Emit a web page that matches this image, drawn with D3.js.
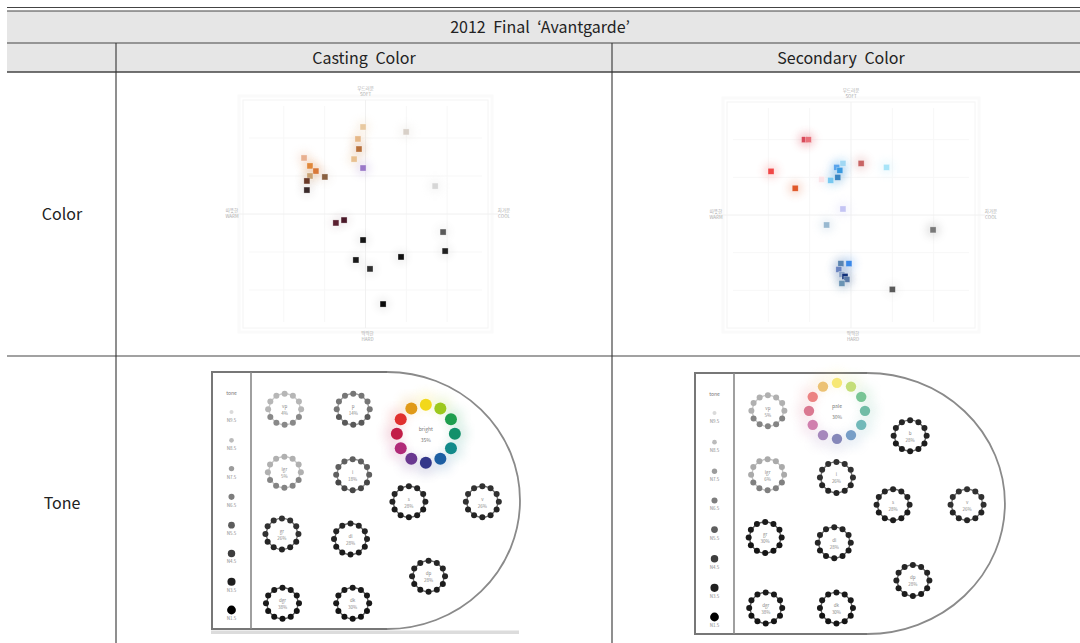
<!DOCTYPE html>
<html>
<head>
<meta charset="utf-8">
<script src="https://cdn.jsdelivr.net/npm/d3@7"></script>
<style>
  body { margin: 0; background: #fff; }
  svg { display: block; }
</style>
</head>
<body>
<div id="chart"></div>
<script>
"use strict";

// == DATA ==
var title = "2012 Final \u2018Avantgarde\u2019";
var columnNames = ["Casting Color", "Secondary Color"];
var rowNames = ["Color", "Tone"];
var axisLabels = { top: ["\ubd80\ub4dc\ub7ec\uc6b4", "SOFT"], bottom: ["\ub531\ub531\ud55c", "HARD"],
                   left: ["\ub530\ub73b\ud55c", "WARM"], right: ["\ucc28\uac00\uc6b4", "COOL"] };

// casting colour samples (hue & tone image scale, -6..6)
var castX = [-0.12, 1.99, -0.37, -0.32, -0.56, -0.12, -3.01, -2.72, -2.43, -2.72, -1.99, -2.87, -2.87, 3.41, -1.45, -1.05, -0.12, 3.8, 3.9, -0.47, 1.74, 0.22, 0.86];
var castY = [4.58, 4.32, 3.95, 3.42, 2.89, 2.42, 2.95, 2.53, 2.26, 2.0, 1.95, 1.74, 1.26, 1.47, -0.47, -0.32, -1.37, -0.95, -1.95, -2.42, -2.26, -2.89, -4.74];
var castColors = ["#e8c9a0", "#d8d0c8", "#e6b888", "#b8703a", "#e8c090", "#9a78c8", "#e8b090", "#e0883a", "#d87838", "#c8a070", "#8a6040", "#6a3a28", "#3a2a2a", "#d6d6d6", "#5a2030", "#4a1828", "#151515", "#5a5a5a", "#202020", "#181818", "#101010", "#303030", "#0a0a0a"];

// secondary colour samples
var secX = [-2.25, -2.06, -3.87, -2.7, 0.49, 1.72, -0.39, -0.69, -0.54, -0.64, -0.98, -1.42, -0.39, -1.18, 3.97, -0.1, -0.49, -0.59, -0.44, -0.29, -0.2, -0.44, 2.0];
var secY = [4.0, 4.0, 2.32, 1.42, 2.74, 2.53, 2.74, 2.53, 2.37, 2.0, 1.84, 1.89, 0.32, -0.53, -0.79, -2.58, -2.58, -2.89, -3.16, -3.26, -3.42, -3.63, -3.95];
var secColors = ["#d84a5a", "#e8707a", "#f04848", "#e05828", "#c86464", "#a8e4f8", "#a0d8f4", "#5aa4ec", "#3a9ae0", "#3a84c0", "#78c8f0", "#fbe4e8", "#c4c4f4", "#98b8d0", "#787878", "#3a88e8", "#5a84b0", "#6a84c0", "#8ca4c8", "#10307a", "#5a7aa8", "#6a94b4", "#5a5a5a"];

// tone map (chroma 0..10, lightness 0..10)
var tones = ["vp", "p", "b", "lgr", "l", "s", "v", "gr", "dl", "dp", "dgr", "dk"];
var toneChroma = [1.25, 3.8, 6.5, 1.24, 3.78, 5.87, 8.6, 1.15, 3.7, 6.6, 1.17, 3.78];
var toneLightness = [8.55, 8.55, 7.6, 6.1, 6.0, 4.95, 4.95, 3.7, 3.5, 2.05, 1.0, 1.0];
var castToneShare = [4, 14, 35, 5, 18, 28, 26, 26, 28, 28, 38, 30];
var secToneShare = [5, 30, 28, 6, 26, 28, 26, 30, 28, 28, 38, 30];
var castWheelTone = "b";
var secWheelTone = "p";

var hueNames = ["Y", "GY", "G", "BG", "gB", "B", "PB", "P", "RP", "pR", "R", "YR"];
var hueColors = ["#f2d81a", "#9cc81e", "#1e9e4e", "#12906a", "#128a8a", "#1c5ea2", "#34378a", "#6a3890", "#b02a78", "#c21e48", "#e0302e", "#e09a18"];

var legendHeader = "tone";
var legendLabels = ["N9.5", "N8.5", "N7.5", "N6.5", "N5.5", "N4.5", "N3.5", "N1.5"];

// == BOILERPLATE ==
var W = 1080, H = 643;
var font = "'Noto Sans CJK KR', 'Noto Sans', sans-serif";

var svg = d3.select("#chart").append("svg")
  .attr("width", W).attr("height", H)
  .style("font-family", font);

var defs = svg.append("defs");
defs.append("filter").attr("id", "glow").attr("x", "-100%").attr("y", "-100%").attr("width", "300%").attr("height", "300%")
  .append("feGaussianBlur").attr("stdDeviation", 4);
defs.append("filter").attr("id", "wglow").attr("x", "-50%").attr("y", "-50%").attr("width", "200%").attr("height", "200%")
  .append("feGaussianBlur").attr("stdDeviation", 6);

// == TABLE ==
var tx0 = 7, tCol1 = 116, tCol2 = 612, tx1 = W;
svg.append("rect").attr("x", tx0).attr("y", 11).attr("width", tx1 - tx0).attr("height", 61).attr("fill", "#e6e6e6");

var hLines = [7.5, 11, 43, 72, 356];
svg.selectAll("line.h").data(hLines).enter().append("line")
  .attr("x1", tx0).attr("x2", tx1)
  .attr("y1", function (d) { return d; }).attr("y2", function (d) { return d; })
  .attr("stroke", "#444").attr("stroke-width", function (d) { return d === 72 ? 1.6 : 1.1; });
svg.append("line").attr("x1", tCol1).attr("x2", tCol1).attr("y1", 43).attr("y2", H).attr("stroke", "#333").attr("stroke-width", 1.1);
svg.append("line").attr("x1", tCol2).attr("x2", tCol2).attr("y1", 43).attr("y2", H).attr("stroke", "#333").attr("stroke-width", 1.1);

svg.append("text").attr("x", 540).attr("y", 33).attr("text-anchor", "middle")
  .attr("font-size", 16).attr("word-spacing", 4).attr("fill", "#222").text(title);
svg.selectAll("text.col").data(columnNames).enter().append("text")
  .attr("x", function (d, i) { return i === 0 ? (tCol1 + tCol2) / 2 : (tCol2 + tx1) / 2 - 5; })
  .attr("y", 64).attr("text-anchor", "middle").attr("font-size", 16).attr("word-spacing", 4).attr("fill", "#222")
  .text(function (d) { return d; });
svg.selectAll("text.row").data(rowNames).enter().append("text")
  .attr("x", 62).attr("y", function (d, i) { return i === 0 ? 220 : 509; })
  .attr("text-anchor", "middle").attr("font-size", 16).attr("fill", "#222")
  .text(function (d) { return d; });

// == SCATTER PANELS ==
function scatter(frame, xs, ys, cols) {
  var g = svg.append("g");
  var x = d3.scaleLinear().domain([-6, 6]).range([frame.x0, frame.x1]);
  var y = d3.scaleLinear().domain([-6, 6]).range([frame.y1, frame.y0]);

  g.append("rect").attr("x", frame.x0 - 4).attr("y", frame.y0 - 4)
    .attr("width", frame.x1 - frame.x0 + 8).attr("height", frame.y1 - frame.y0 + 8)
    .attr("fill", "none").attr("stroke", "#fafafa").attr("stroke-width", 3);
  g.append("rect").attr("x", frame.x0).attr("y", frame.y0)
    .attr("width", frame.x1 - frame.x0).attr("height", frame.y1 - frame.y0)
    .attr("fill", "none").attr("stroke", "#f4f4f4");

  var grid = [-4, -2, 2, 4];
  g.selectAll("line.gx").data(grid).enter().append("line")
    .attr("x1", x).attr("x2", x).attr("y1", frame.y0 + 6).attr("y2", frame.y1 - 6)
    .attr("stroke", "#f7f7f7");
  g.selectAll("line.gy").data(grid).enter().append("line")
    .attr("y1", y).attr("y2", y).attr("x1", frame.x0 + 6).attr("x2", frame.x1 - 6)
    .attr("stroke", "#f7f7f7");
  g.append("line").attr("x1", x(0)).attr("x2", x(0)).attr("y1", frame.y0).attr("y2", frame.y1).attr("stroke", "#f1f1f1");
  g.append("line").attr("x1", frame.x0 - 10).attr("x2", frame.x1 + 10).attr("y1", y(0)).attr("y2", y(0)).attr("stroke", "#f0f0f0");

  // axis end labels
  var lab = [
    { k: "top", px: x(0), py: frame.y0 - 10 },
    { k: "bottom", px: x(0) + 2, py: frame.y1 + 7 },
    { k: "left", px: frame.x0 - 11, py: y(0) - 2 },
    { k: "right", px: frame.x1 + 16, py: y(0) - 2 }
  ];
  lab.forEach(function (l) {
    var t = g.append("text").attr("text-anchor", "middle").attr("font-size", 4.5).attr("fill", "#aaa");
    axisLabels[l.k].forEach(function (s, i) {
      t.append("tspan").attr("x", l.px).attr("y", l.py + i * 6).text(s);
    });
  });

  var idx = d3.range(xs.length);
  g.selectAll("circle.halo").data(idx).enter().append("circle")
    .attr("cx", function (i) { return x(xs[i]); }).attr("cy", function (i) { return y(ys[i]); })
    .attr("r", 7).attr("fill", function (i) { return cols[i]; })
    .attr("opacity", function (i) { return d3.hsl(cols[i]).l > 0.45 ? 0.22 : 0.06; })
    .attr("filter", "url(#glow)");
  g.selectAll("rect.pt").data(idx).enter().append("rect")
    .attr("x", function (i) { return x(xs[i]) - 3; }).attr("y", function (i) { return y(ys[i]) - 3; })
    .attr("width", 6).attr("height", 6).attr("fill", function (i) { return cols[i]; })
    .attr("stroke", "#fff").attr("stroke-opacity", 0.5).attr("stroke-width", 0.6);
}

scatter({ x0: 243, x1: 488, y0: 100, y1: 328 }, castX, castY, castColors);
scatter({ x0: 727, x1: 975, y0: 102, y1: 328 }, secX, secY, secColors);

// == TONE PANELS ==
function tonePanel(box, share, wheelTone, pale) {
  var g = svg.append("g");
  var x = d3.scaleLinear().domain([0, 10]).range([box.div, box.x1]);
  var y = d3.scaleLinear().domain([0, 10]).range([box.y1, box.y0]);
  var rx = box.x1 - box.arc, ry = (box.y1 - box.y0) / 2;

  // shape
  g.append("path")
    .attr("d", "M" + box.arc + "," + box.y0 + " A" + rx + "," + ry + " 0 0 1 " + box.arc + "," + box.y1)
    .attr("fill", "none").attr("stroke", "#8a8a8a").attr("stroke-width", 1.8);
  g.append("path")
    .attr("d", "M" + box.arc + "," + box.y0 + " L" + box.x0 + "," + box.y0 + " L" + box.x0 + "," + box.y1 + " L" + box.arc + "," + box.y1)
    .attr("fill", "none").attr("stroke", "#777").attr("stroke-width", 2);
  g.append("line").attr("x1", box.div).attr("x2", box.div).attr("y1", box.y0).attr("y2", box.y1)
    .attr("stroke", "#888").attr("stroke-width", 1.6);
  if (box.bar) {
    g.append("rect").attr("x", box.x0 - 1).attr("y", box.y1 + 1.5).attr("width", box.bar - box.x0).attr("height", 3.5).attr("fill", "#dcdcdc");
  }

  // lightness legend
  var ly = d3.scalePoint().domain(legendLabels).range([box.ly0, box.ly1]);
  var lr = d3.scaleLinear().domain([0, legendLabels.length - 1]).range([2, 4.4]);
  var lgray = d3.scaleLinear().domain([0, legendLabels.length - 1]).range(["#dadada", "#000"]);
  var lx = (box.x0 + box.div) / 2;
  g.append("text").attr("x", lx).attr("y", box.ly0 - 17).attr("text-anchor", "middle")
    .attr("font-size", 5).attr("fill", "#777").text(legendHeader);
  g.selectAll("circle.lg").data(legendLabels).enter().append("circle")
    .attr("cx", lx).attr("cy", function (d) { return ly(d); })
    .attr("r", function (d, i) { return lr(i); })
    .attr("fill", function (d, i) { return lgray(i); });
  g.selectAll("text.lg").data(legendLabels).enter().append("text")
    .attr("x", lx).attr("y", function (d) { return ly(d) + 10; }).attr("text-anchor", "middle")
    .attr("font-size", 4.5).attr("fill", "#888").text(function (d) { return d; });

  // rings
  var ringGray = d3.scaleLinear().domain([0, 15, 30]).range(["#d0d0d0", "#707070", "#1a1a1a"]).clamp(true);
  var angles = d3.range(12).map(function (k) { return k * Math.PI / 6; });
  tones.forEach(function (t, i) {
    var cx = x(toneChroma[i]), cy = y(toneLightness[i]);
    var ring = g.append("g").attr("transform", "translate(" + cx + "," + cy + ")");
    if (t === wheelTone) {
      var R = pale ? 28 : 29, dr = pale ? 5.2 : 6;
      var cols = hueColors.map(function (c) { return pale ? d3.interpolateRgb(c, "#fff")(0.4) : c; });
      ring.selectAll("circle.glow").data(angles).enter().append("circle")
        .attr("cx", function (a) { return (R + 4) * Math.sin(a); }).attr("cy", function (a) { return -(R + 4) * Math.cos(a); })
        .attr("r", 8).attr("fill", function (a, k) { return cols[k]; }).attr("opacity", 0.2)
        .attr("filter", "url(#wglow)");
      ring.selectAll("circle.hue").data(angles).enter().append("circle")
        .attr("cx", function (a) { return R * Math.sin(a); }).attr("cy", function (a) { return -R * Math.cos(a); })
        .attr("r", dr).attr("fill", function (a, k) { return cols[k]; });
      ring.append("text").attr("y", -3).attr("text-anchor", "middle").attr("font-size", 5).attr("fill", "#777").text(t === "b" ? "bright" : "pale");
      ring.append("text").attr("y", 8).attr("text-anchor", "middle").attr("font-size", 5).attr("fill", "#777").text(share[i] + "%");
    } else {
      var gc = ringGray(share[i]);
      ring.append("circle").attr("r", 15.5).attr("fill", "none").attr("stroke", gc).attr("stroke-opacity", 0.7).attr("stroke-width", 1.4);
      ring.selectAll("circle.d").data(angles).enter().append("circle")
        .attr("cx", function (a) { return 16.5 * Math.sin(a); }).attr("cy", function (a) { return -15.5 * Math.cos(a); })
        .attr("r", 3).attr("fill", function (a, k) { return k >= 4 && k <= 8 ? d3.color(gc).darker(0.8) : gc; });
      ring.append("text").attr("y", -1).attr("text-anchor", "middle").attr("font-size", 4.5).attr("fill", "#888").text(t);
      ring.append("text").attr("y", 6).attr("text-anchor", "middle").attr("font-size", 4.5).attr("fill", "#888").text(share[i] + "%");
    }
  });
}

tonePanel({ x0: 212, div: 251, x1: 520, arc: 387, y0: 372, y1: 629, bar: 520, ly0: 412, ly1: 610 }, castToneShare, castWheelTone, false);
tonePanel({ x0: 695, div: 734, x1: 1005, arc: 867, y0: 373, y1: 634, bar: null, ly0: 413, ly1: 617 }, secToneShare, secWheelTone, true);
</script>
</body>
</html>
